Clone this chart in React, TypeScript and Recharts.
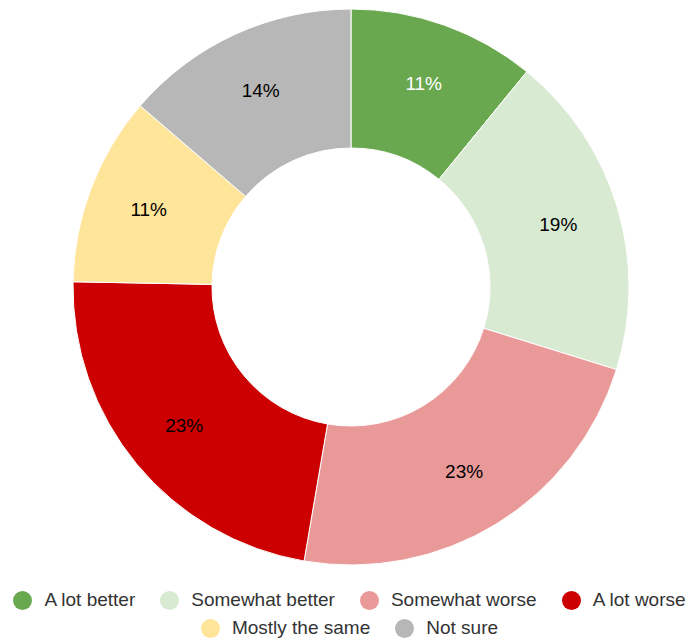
import React from 'react';
import { PieChart, Pie, Cell, Legend } from 'recharts';

const categories = ['A lot better', 'Somewhat better', 'Somewhat worse', 'A lot worse', 'Mostly the same', 'Not sure'];
const shares = [10.9, 18.9, 22.9, 22.6, 11.0, 13.7];
const COLORS = ['#6aa84f', '#d9ead3', '#ea9999', '#cc0000', '#ffe599', '#b7b7b7'];
const LABEL_COLORS = ['#ffffff', '#000000', '#000000', '#000000', '#000000', '#000000'];
const legendRows = [
  [0, 1, 2, 3],
  [4, 5],
];

const FONT = '"Liberation Sans", Arial, sans-serif';
const RADIAN = Math.PI / 180;

const data = categories.map((name, i) => ({ name, value: shares[i] }));

function renderLabel(props: any) {
  const { cx, cy, midAngle, innerRadius, outerRadius, value, index } = props;
  const r = (innerRadius + outerRadius) / 2 + 8;
  const x = cx + r * Math.cos(-midAngle * RADIAN);
  const y = cy + r * Math.sin(-midAngle * RADIAN);
  return (
    <text
      x={x}
      y={y}
      fill={LABEL_COLORS[index]}
      textAnchor="middle"
      dominantBaseline="central"
      fontFamily={FONT}
      fontSize={19}
    >
      {`${Math.round(value)}%`}
    </text>
  );
}

function LegendContent() {
  return (
    <div style={{ fontFamily: FONT, fontSize: 19, color: '#333' }}>
      {legendRows.map((row, ri) => (
        <div
          key={ri}
          style={{ display: 'flex', justifyContent: 'center', alignItems: 'center', height: 28, gap: 25 }}
        >
          {row.map((idx) => (
            <div key={idx} style={{ display: 'flex', alignItems: 'center' }}>
              <span
                style={{
                  display: 'inline-block',
                  width: 19,
                  height: 19,
                  borderRadius: '50%',
                  background: COLORS[idx],
                  marginRight: 12,
                }}
              />
              <span style={{ whiteSpace: 'nowrap' }}>{categories[idx]}</span>
            </div>
          ))}
        </div>
      ))}
    </div>
  );
}

export default function App() {
  return (
    <div style={{ position: 'absolute', left: 0, top: 0, width: 689, height: 638, background: '#fff' }}>
      <PieChart width={689} height={638}>
        <Pie
          data={data}
          dataKey="value"
          cx={346}
          cy={282}
          innerRadius={139}
          outerRadius={278}
          startAngle={90}
          endAngle={-270}
          stroke="#ffffff"
          strokeWidth={1}
          labelLine={false}
          label={renderLabel}
          isAnimationActive={false}
        >
          {data.map((_, i) => (
            <Cell key={`cell-${i}`} fill={COLORS[i]} />
          ))}
        </Pie>
        <Legend
          content={<LegendContent />}
          wrapperStyle={{ position: 'absolute', left: 5, top: 586, width: 689 }}
        />
      </PieChart>
    </div>
  );
}
